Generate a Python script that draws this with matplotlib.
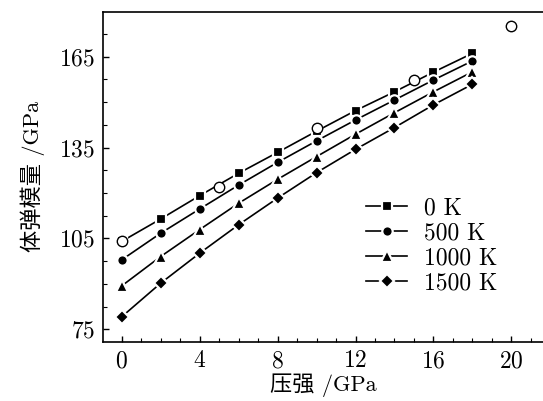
import matplotlib
matplotlib.use("Agg")
import matplotlib.pyplot as plt
from matplotlib.ticker import MultipleLocator

plt.rcParams['font.family'] = ['cmr10', 'Noto Sans CJK SC', 'DejaVu Sans']
plt.rcParams['axes.formatter.use_mathtext'] = True

pressure = [0, 2, 4, 6, 8, 10, 12, 14, 16, 18]
b_0K = [104.0, 111.4, 119.1, 126.5, 133.4, 140.4, 147.2, 153.4, 159.9, 166.1]
b_500K = [97.9, 106.7, 114.7, 122.6, 130.1, 137.2, 144.1, 150.7, 157.3, 163.6]
b_1000K = [89.3, 99.0, 107.9, 116.6, 124.5, 132.0, 139.4, 146.5, 153.4, 160.0]
b_1500K = [79.1, 90.2, 100.1, 109.5, 118.3, 126.7, 134.4, 141.6, 149.1, 155.9]
exp_p = [0, 5, 10, 15, 20]
exp_b = [104.2, 122.1, 141.4, 157.2, 175.1]
labels = ['0 K', '500 K', '1000 K', '1500 K']
xticks = [0, 4, 8, 12, 16, 20]
yticks = [75, 105, 135, 165]

fig = plt.figure(figsize=(5.43, 4.01), dpi=100)
ax = fig.add_axes([103.3/543, 1-342/401, 1-103.3/543, (342-11.7)/401])

series = [b_0K, b_500K, b_1000K, b_1500K]
markers = ['s', 'o', '^', 'D']
msizes = [7.5, 7.5, 8.5, 7.0]
for ys, m, ms, lab in zip(series, markers, msizes, labels):
    ax.plot(pressure, ys, color='black', lw=1.2, marker=m, ms=ms,
            mfc='black', mec='white', mew=1.6, label=lab)

ax.plot(exp_p, exp_b, linestyle='none', marker='o', ms=7.5, mfc='white',
        mec='black', mew=1.0, zorder=5)

ax.set_xlim(-0.94, 21.62)
ax.set_ylim(70.8, 179.85)
ax.set_xticks(xticks)
ax.set_yticks(yticks)
ax.xaxis.set_minor_locator(MultipleLocator(1))
ax.yaxis.set_minor_locator(MultipleLocator(7.5))
ax.tick_params(which='both', direction='in', top=False, right=False, labelsize=17)
ax.tick_params(which='major', length=4, width=1)
ax.tick_params(which='minor', length=3, width=0.8)
ax.tick_params(axis='y', pad=6)
ax.tick_params(axis='x', pad=6)
ax.spines['right'].set_visible(False)
for s in ['left', 'bottom', 'top']:
    ax.spines[s].set_linewidth(1.2)

ax.set_xlabel('压强 /GPa', fontsize=16, labelpad=1)
ax.set_ylabel('体弹模量 /GPa', fontsize=16, labelpad=10)

leg = ax.legend(loc='upper left', bbox_to_anchor=(366/543, 1-197/401),
                bbox_transform=fig.transFigure, frameon=False, fontsize=17,
                handlelength=1.75, handletextpad=0.72, labelspacing=0.12,
                borderaxespad=0, borderpad=0)

fig.savefig('out.png', dpi=100)
